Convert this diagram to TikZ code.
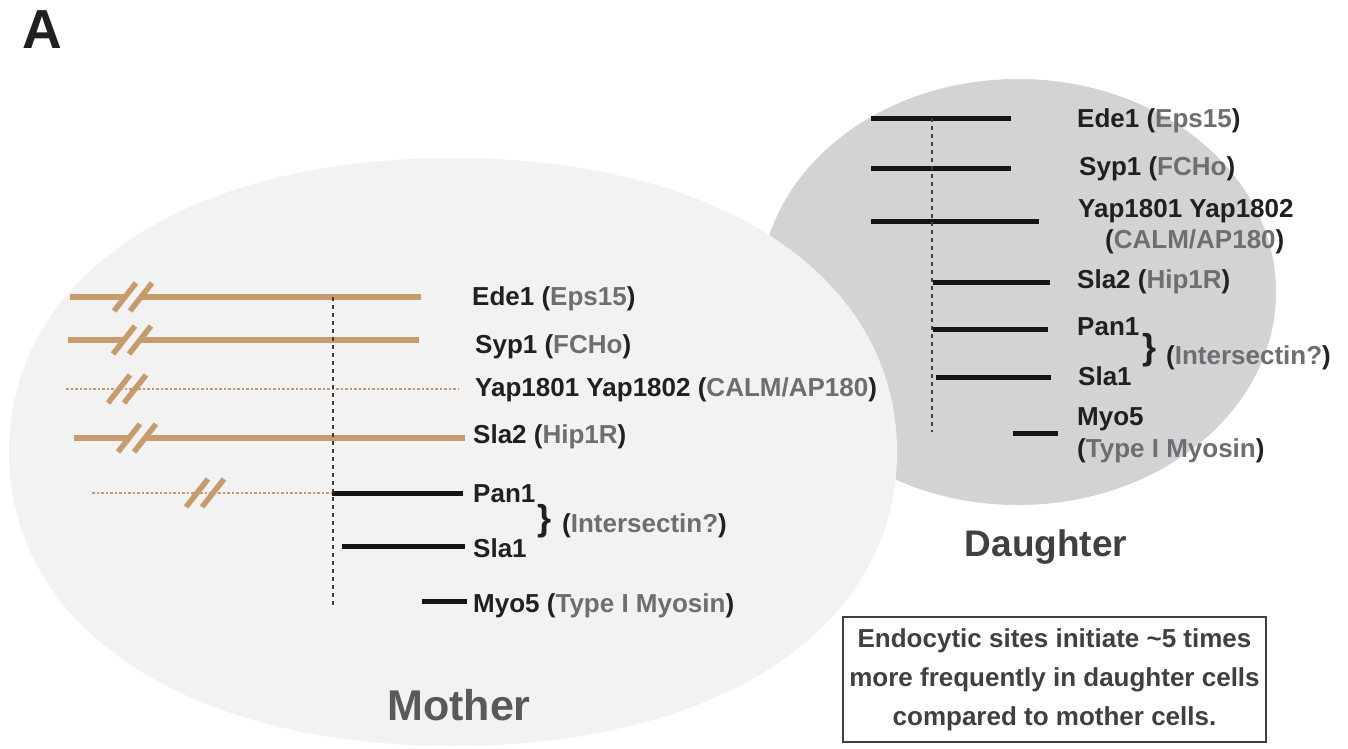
\documentclass[tikz,border=0pt]{standalone}
\usepackage{fontspec}
\setmainfont{Liberation Sans}
\definecolor{mfill}{HTML}{F2F2F2}
\definecolor{dfill}{HTML}{D1D3D4}
\definecolor{tanc}{HTML}{C69C6D}
\definecolor{ink}{HTML}{231F20}
\definecolor{gr}{HTML}{6D6E71}
\definecolor{dgray}{HTML}{404041}
\definecolor{mgray}{HTML}{58595B}
\definecolor{linek}{HTML}{151515}
\tikzset{
  tanline/.style={draw=tanc,line width=6pt},
  tandot/.style={draw=tanc,line width=2.5pt,dash pattern=on 2.5pt off 2pt},
  blk/.style={draw=linek,line width=5pt},
  vdash/.style={draw=dgray,line width=2.5pt,dash pattern=on 4pt off 4pt},
  slashmark/.style={draw=tanc,line width=5.5pt},
  lab/.style={anchor=base west,inner sep=0pt,font=\fontsize{26}{30}\selectfont\bfseries,text=ink},
  bracelab/.style={anchor=base west,inner sep=0pt,font=\fontsize{36}{36}\selectfont\bfseries,text=ink},
}
\newcommand\pl[2]{#1 (\textcolor{gr}{#2})}
\newcommand\brk[2]{% x center of first slash, y
  \draw[slashmark] (#1-11,#2+14) -- (#1+11,#2-14);
  \draw[slashmark] (#1+5,#2+14) -- (#1+27,#2-14);}
\begin{document}
\begin{tikzpicture}[x=1pt,y=-1pt]
\useasboundingbox (0,0) rectangle (1348,748);
% daughter cell
\fill[dfill] (1018,292) ellipse [x radius=258pt, y radius=213pt];
% mother cell
\fill[mfill] (897,452) .. controls (897,275.6) and (719.4,158) .. (453,158)
  .. controls (186.6,158) and (9,275.6) .. (9,452)
  .. controls (9,628.4) and (186.6,746) .. (453,746)
  .. controls (719.4,746) and (897,628.4) .. (897,452) -- cycle;

\node[anchor=base west,inner sep=0pt,font=\fontsize{55}{55}\selectfont\bfseries,text=ink] (A) at (22,48) {A};

% ---------------- mother ----------------
\draw[tanline] (70,297) -- (125,297);  \draw[tanline] (141,297) -- (421,297);  \brk{125}{297}
\draw[tanline] (68,340) -- (124,340);  \draw[tanline] (140,340) -- (419,340);  \brk{124}{340}
\draw[tandot] (66,389) -- (458,389);   \brk{119}{389}
\draw[tanline] (74,438) -- (129,438);  \draw[tanline] (145,438) -- (465,438);  \brk{129}{438}
\draw[tandot] (92,493) -- (332,493);   \brk{197}{493}
\draw[blk] (332,493) -- (463,493);
\draw[blk] (342,546) -- (465,546);
\draw[blk] (422,601) -- (467,601);
\draw[vdash] (333,297) -- (333,607);

\node[lab] (mEde) at (472,305) {\pl{Ede1}{Eps15}};
\node[lab] (mSyp) at (475,353) {\pl{Syp1}{FCHo}};
\node[lab] (mYap) at (475,396) {\pl{Yap1801 Yap1802}{CALM/AP180}};
\node[lab] (mSla2) at (473,443) {\pl{Sla2}{Hip1R}};
\node[lab] (mPan) at (473,502) {Pan1};
\node[lab] (mSla1) at (473,557) {Sla1};
\node[bracelab] (mBr) at (537,530) {\}};
\node[lab] (mInt) at (562,532) {(\textcolor{gr}{Intersectin?})};
\node[lab] (mMyo) at (473,612) {\pl{Myo5}{Type I Myosin}};
\node[anchor=center,inner sep=0pt,font=\fontsize{43}{43}\selectfont\bfseries,text=mgray] (mother) at (459,705) {Mother};

% ---------------- daughter ----------------
\draw[blk] (871,118) -- (1011,118);
\draw[blk] (871,168) -- (1011,168);
\draw[blk] (871,221) -- (1039,221);
\draw[blk] (933,282) -- (1050,282);
\draw[blk] (933,329) -- (1048,329);
\draw[blk] (936,377) -- (1051,377);
\draw[blk] (1013,433) -- (1058,433);
\draw[vdash,line width=2pt] (932,118) -- (932,432);

\node[lab] (dEde) at (1077,127) {\pl{Ede1}{Eps15}};
\node[lab] (dSyp) at (1079,175) {\pl{Syp1}{FCHo}};
\node[lab] (dYap) at (1078,217) {Yap1801 Yap1802};
\node[lab] (dCalm) at (1105,248) {(\textcolor{gr}{CALM/AP180})};
\node[lab] (dSla2) at (1077,288) {\pl{Sla2}{Hip1R}};
\node[lab] (dPan) at (1077,335) {Pan1};
\node[lab] (dSla1) at (1078,385) {Sla1};
\node[bracelab] (dBr) at (1142,359) {\}};
\node[lab] (dInt) at (1166,364) {(\textcolor{gr}{Intersectin?})};
\node[lab] (dMyo) at (1077,425) {Myo5};
\node[lab] (dType) at (1077,457) {(\textcolor{gr}{Type I Myosin})};
\node[anchor=center,inner sep=0pt,font=\fontsize{37}{37}\selectfont\bfseries,text=dgray] (daughter) at (1046,547) {Daughter};

% ---------------- note box ----------------
\node[draw=dgray,line width=1.5pt,minimum width=423pt,minimum height=125pt,inner sep=0pt,
      align=center,text=dgray,font=\fontsize{26}{39}\selectfont\bfseries] (note) at (1054.5,679.5)
  {Endocytic sites initiate \textasciitilde5 times\\more frequently in daughter cells\\compared to mother cells.};
\end{tikzpicture}
\end{document}
